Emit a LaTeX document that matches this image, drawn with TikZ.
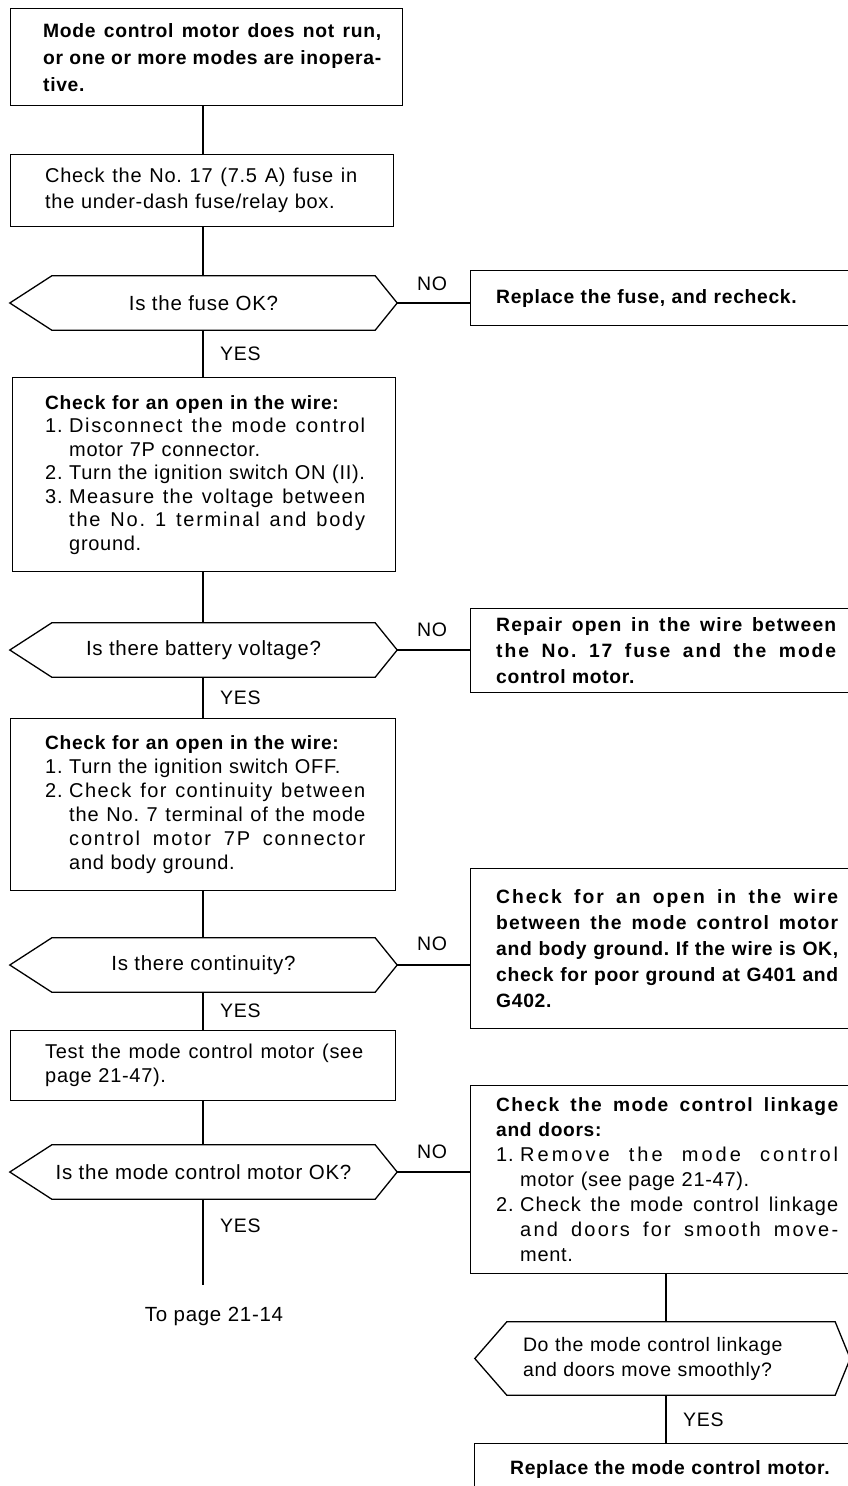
\documentclass[tikz,border=0pt]{standalone}
\usepackage{fontspec}
\setmainfont[LetterSpace=3.5]{Liberation Sans}
\usetikzlibrary{calc}
\frenchspacing
\newlength\itemind \setlength\itemind{24pt}
\newlength\tw \setlength\tw{300pt}
\def\jlaux#1 #2\jlend{#1\if\relax\detokenize{#2}\relax\else\hskip 5pt plus 1fill\relax\jlaux#2\jlend\fi}
\newcommand\jlw[3]{\leavevmode{\ifx\relax#1\relax\else\addfontfeature{LetterSpace=#1}\fi\hbox to #2{\jlaux#3 \jlend}}}
\newcommand\jl[2][]{\jlw{#1}{\tw}{#2}}
\newcommand\il[3][]{\makebox[\itemind][l]{#2}\jlw{#1}{\dimexpr\tw-\itemind\relax}{#3}}
\newcommand\ir[2]{\makebox[\itemind][l]{#1}#2}
\newcommand\ic[1]{\hspace*{\itemind}#1}
\newcommand\icj[2][]{\hspace*{\itemind}\jlw{#1}{\dimexpr\tw-\itemind\relax}{#2}}
\newcommand\hb[1]{{\fontsize{19.2}{\baselineskip}\selectfont\bfseries #1}}
\newcommand\hexdraw[3]{\draw[hexline] (#1.west) -- ($(#1.north west)+(#2,0)$) -- ($(#1.north east)+(-#3,0)$) -- (#1.east) -- ($(#1.south east)+(-#3,0)$) -- ($(#1.south west)+(#2,0)$) -- cycle;}
\begin{document}
\begin{tikzpicture}[x=1pt,y=-1pt,
  box/.style={draw, line width=1.3pt, inner sep=0pt, anchor=north west},
  txt/.style={inner sep=0pt, align=left, anchor=west, text width=390pt, font=\fontsize{20}{#1}\selectfont},
  txt/.default=25,
  btxt/.style={inner sep=0pt, align=left, anchor=west, text width=390pt, font=\fontsize{19.3}{#1}\selectfont\bfseries},
  btxt/.default=26,
  hexn/.style={inner sep=0pt, minimum height=54pt, align=center, font=\fontsize{20.5}{25}\selectfont},
  hexline/.style={line width=1.3pt, line join=miter},
  conn/.style={line width=1.2pt},
  lbl/.style={inner sep=0pt, font=\fontsize{19.5}{24}\selectfont}]
\useasboundingbox (0,0) rectangle (848,1486);
\fill[white] (0,0) rectangle (848,1486);
\clip (0,0) rectangle (848,1486);
\coordinate (sp) at (203,0);
\coordinate (sq) at (666,0);
% left column
\node[box, minimum width=392pt, minimum height=97pt] (b1) at (10,8) {};
\node[btxt=27] (b1t) at ($(b1.west)+(33,0)$) {\tw=338pt\jl{Mode control motor does not run,}\\\jl{or one or more modes are inopera-}\\tive.};
\node[box, minimum width=383pt, minimum height=72pt] (b2) at (10,154) {};
\node[txt=26] (b2t) at ($(b2.west)+(35,0)$) {\tw=312pt\jl{Check the No. 17 (7.5 A) fuse in}\\the under-dash fuse/relay box.};
\node[hexn, minimum width=387pt] (h1) at (203.5,303) {Is the fuse OK?};
\hexdraw{h1}{42}{22}
\node[box, minimum width=383pt, minimum height=194pt] (b3) at (12,377) {};
\node[txt=23.5] (b3t) at ($(b3.west)+(33,0)$) {\tw=320pt\hb{Check for an open in the wire:}\\\il[8]{1.}{Disconnect the mode control}\\\ic{motor 7P connector.}\\\ir{2.}{Turn the ignition switch ON (II).}\\\il[6]{3.}{Measure the voltage between}\\\icj[9]{the No. 1 terminal and body}\\\ic{ground.}};
\node[hexn, minimum width=387pt] (h2) at (203.5,650) {Is there battery voltage?};
\hexdraw{h2}{42}{22}
\node[box, minimum width=385pt, minimum height=172pt] (b4) at (10,718) {};
\node[txt=24] (b4t) at ($(b4.west)+(35,0)$) {\tw=320pt\hb{Check for an open in the wire:}\\\ir{1.}{Turn the ignition switch OFF.}\\\il[7]{2.}{Check for continuity between}\\\icj[4.5]{the No. 7 terminal of the mode}\\\icj[9]{control motor 7P connector}\\\ic{and body ground.}};
\node[hexn, minimum width=387pt] (h3) at (203.5,965) {Is there continuity?};
\hexdraw{h3}{42}{22}
\node[box, minimum width=385pt, minimum height=70pt] (b5) at (10,1030) {};
\node[txt=24] (b5t) at ($(b5.west)+(35,0)$) {\tw=318pt\jl{Test the mode control motor (see}\\page 21-47).};
\node[hexn, minimum width=387pt] (h4) at (203.5,1172) {Is the mode control motor OK?};
\hexdraw{h4}{42}{22}
\coordinate (e4) at (203,1285);
\node[lbl, font=\fontsize{20.5}{24}\selectfont] (tp) at (214,1316) {To page 21-14};
% right column
\node[box, minimum width=420pt, minimum height=55pt] (r1) at (470,270) {};
\node[btxt] (r1t) at ($(r1.west)+(26,0)$) {Replace the fuse, and recheck.};
\node[box, minimum width=420pt, minimum height=84pt] (r2) at (470,608) {};
\node[btxt=26] (r2t) at ($(r2.west)+(26,0)$) {\tw=340pt\jl[6]{Repair open in the wire between}\\\jl[10]{the No. 17 fuse and the mode}\\control motor.};
\node[box, minimum width=420pt, minimum height=160pt] (r3) at (470,868) {};
\node[btxt=26] (r3t) at ($(r3.west)+(26,0)$) {\tw=342pt\jl[10]{Check for an open in the wire}\\\jl[6]{between the mode control motor}\\\jl{and body ground. If the wire is OK,}\\\jl{check for poor ground at G401 and}\\G402.};
\node[box, minimum width=420pt, minimum height=188pt] (r4) at (470,1085) {};
\node[txt=25] (r4t) at ($(r4.west)+(26,0)$) {\tw=342pt\hb{\jl[7]{Check the mode control linkage}}\\\hb{and doors:}\\\il[15]{1.}{Remove the mode control}\\\ic{motor (see page 21-47).}\\\il[5]{2.}{Check the mode control linkage}\\\icj[11]{and doors for smooth move-}\\\ic{ment.}};
\node[hexn, minimum width=375pt, minimum height=73pt] (h5) at (662.5,1358.5) {};
\hexdraw{h5}{32}{15}
\node[txt=25, font=\fontsize{19.5}{25}\selectfont] (h5t) at ($(h5.west)+(48,0)$) {Do the mode control linkage\\and doors move smoothly?};
\node[box, minimum width=420pt, minimum height=100pt] (b6) at (474,1443) {};
\node[btxt] (b6t) at ($(b6.north west)+(36,26)$) {Replace the mode control motor.};
% connectors
\draw[conn] (b1.south -| sp) -- (b2.north -| sp);
\draw[conn] (b2.south -| sp) -- (h1.north -| sp);
\draw[conn] (h1.south -| sp) -- (b3.north -| sp);
\draw[conn] (b3.south -| sp) -- (h2.north -| sp);
\draw[conn] (h2.south -| sp) -- (b4.north -| sp);
\draw[conn] (b4.south -| sp) -- (h3.north -| sp);
\draw[conn] (h3.south -| sp) -- (b5.north -| sp);
\draw[conn] (b5.south -| sp) -- (h4.north -| sp);
\draw[conn] (h4.south -| sp) -- (e4);
\draw[conn] (h1.east) -- (r1.west |- h1.east);
\draw[conn] (h2.east) -- (r2.west |- h2.east);
\draw[conn] (h3.east) -- (r3.west |- h3.east);
\draw[conn] (h4.east) -- (r4.west |- h4.east);
\draw[conn] (r4.south -| sq) -- (h5.north -| sq);
\draw[conn] (h5.south -| sq) -- (b6.north -| sq);
% labels
\node[lbl] (n1) at (432,284) {NO};
\node[lbl] (n2) at (432,630) {NO};
\node[lbl] (n3) at (432,944) {NO};
\node[lbl] (n4) at (432,1152) {NO};
\node[lbl, anchor=west] (y1) at (220,354) {YES};
\node[lbl, anchor=west] (y2) at (220,698) {YES};
\node[lbl, anchor=west] (y3) at (220,1011) {YES};
\node[lbl, anchor=west] (y4) at (220,1226) {YES};
\node[lbl, anchor=west] (y5) at (683,1420) {YES};
\end{tikzpicture}
\end{document}
